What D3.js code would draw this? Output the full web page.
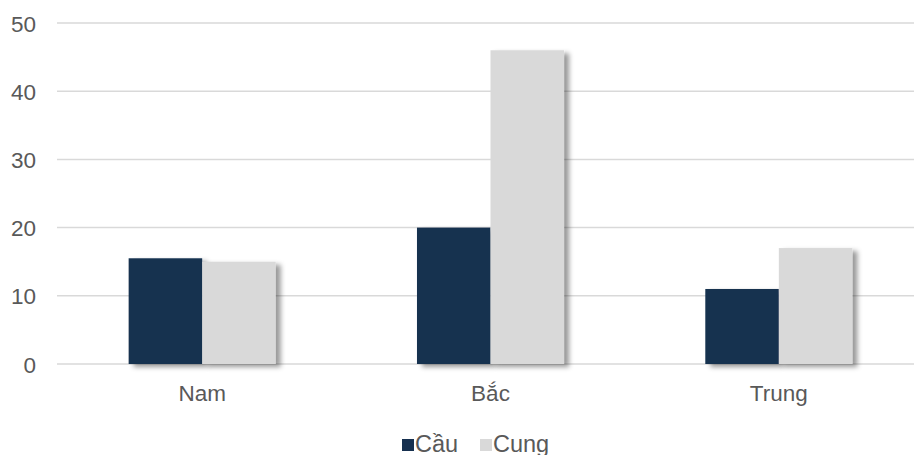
<!DOCTYPE html>
<html><head><meta charset="utf-8">
<script src="https://cdn.jsdelivr.net/npm/d3@7"></script>
<style>body{margin:0;background:#fff}svg{display:block}</style>
</head><body>
<svg id="c" width="914" height="455"></svg>
<script>
const categories = ["Nam", "Bắc", "Trung"];
const seriesNames = ["Cầu", "Cung"];
const cauValues = [15.5, 20, 11];
const cungValues = [15, 46, 17];
const yTicks = [0, 10, 20, 30, 40, 50];
const colors = ["#16304f", "#d9d9d9"];

const FONT = "Liberation Sans, Arial, sans-serif";
const svg = d3.select("#c");
const defs = svg.append("defs");
const f = defs.append("filter").attr("id","sh").attr("x","-20%").attr("y","-20%").attr("width","150%").attr("height","150%");
f.append("feDropShadow").attr("dx",5).attr("dy",3).attr("stdDeviation",2.5).attr("flood-color","#000").attr("flood-opacity",0.4);

const y = d3.scaleLinear().domain([0,50]).range([364,23]);
const x0 = d3.scaleBand().domain(categories).range([58,923]).paddingInner(0.49).paddingOuter(0.245);
const x1 = d3.scaleBand().domain(seriesNames).range([0,x0.bandwidth()]);

// gridlines
svg.append("g").selectAll("line").data(yTicks).join("line")
  .attr("x1",57).attr("x2",914).attr("y1",d=>y(d)).attr("y2",d=>y(d))
  .attr("stroke","#d9d9d9").attr("stroke-width",1.5);

// y axis labels
const ya = svg.append("g").attr("transform","translate(36,0)")
  .call(d3.axisLeft(y).tickValues(yTicks).tickSize(0).tickPadding(0));
ya.select(".domain").remove();
ya.selectAll("text").attr("font-family",FONT).attr("font-size",22.5).attr("fill","#595959").attr("dy","0.36em");

// x axis labels
const xa = svg.append("g").attr("transform","translate(0,401)")
  .call(d3.axisBottom(x0).tickSize(0).tickPadding(0));
xa.select(".domain").remove();
xa.selectAll("text").attr("font-family",FONT).attr("font-size",22.5).attr("fill","#595959").attr("y",0).attr("dy",0);

const data = categories.map((c,i)=>({cat:c, vals:[cauValues[i], cungValues[i]]}));
const g = svg.append("g");
seriesNames.forEach((s,si)=>{
  g.append("g").selectAll("rect").data(data).join("rect")
    .attr("x",d=>x0(d.cat)+x1(s))
    .attr("y",d=>y(d.vals[si]))
    .attr("width",x1.bandwidth())
    .attr("height",d=>y(0)-y(d.vals[si]))
    .attr("fill",colors[si])
    .attr("filter","url(#sh)");
});

// legend
const lg = svg.append("g").attr("font-family",FONT).attr("font-size",23.5).attr("fill","#595959");
const legendX = [402, 480];
seriesNames.forEach((s,i)=>{
  lg.append("rect").attr("x",legendX[i]).attr("y",439).attr("width",12).attr("height",12).attr("fill",colors[i]);
  lg.append("text").attr("x",legendX[i]+13).attr("y",452).text(s);
});
</script>
</body></html>
